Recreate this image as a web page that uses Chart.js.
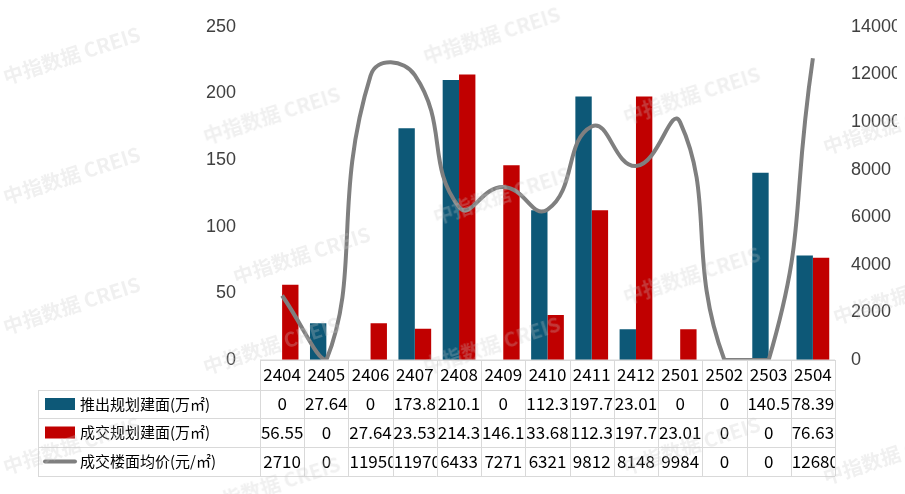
<!DOCTYPE html>
<html><head><meta charset="utf-8">
<script src="https://cdn.jsdelivr.net/npm/chart.js@4"></script>
<style>
body{margin:0;background:#fff;}
#wrap{position:relative;width:905px;height:494px;}
.wm{position:absolute;color:rgba(200,200,200,0.28);font:bold 20px "Noto Sans CJK SC";transform:rotate(-18deg);pointer-events:none;white-space:nowrap;}
</style></head><body>
<div id="wrap"><canvas id="c" width="905" height="494"></canvas></div>
<script>
const categories = ['2404','2405','2406','2407','2408','2409','2410','2411','2412','2501','2502','2503','2504'];
const launched = [0, 27.64, 0, 173.8, 210.1, 0, 112.3, 197.7, 23.01, 0, 0, 140.5, 78.39];
const traded = [56.55, 0, 27.64, 23.53, 214.3, 146.1, 33.68, 112.3, 197.7, 23.01, 0, 0, 76.63];
const price = [2710, 0, 11950, 11970, 6433, 7271, 6321, 9812, 8148, 9984, 0, 0, 12680];
const seriesNames = ['推出规划建面(万㎡)', '成交规划建面(万㎡)', '成交楼面均价(元/㎡)'];
const colors = ['#0d5877', '#c00000', '#7f7f7f'];

// Watermarks
const wrap = document.getElementById('wrap');
[[0,40],[200,100],[420,20],[620,80],[820,110],[0,160],[230,240],[430,180],[620,260],[830,280],[0,290],[200,330],[420,330],[0,430],[200,470],[620,430],[820,440]].forEach(p => {
    const d = document.createElement('div');
    d.className = 'wm';
    d.textContent = '中指数据 CREIS';
    d.style.left = p[0] + 'px';
    d.style.top = p[1] + 'px';
    wrap.appendChild(d);
});

const FONT = '17px "Noto Sans CJK SC", "Noto Sans", sans-serif';

const tablePlugin = {
    id: 'table',
    afterDraw(chart) {
        const ctx = chart.ctx;
        const x = chart.scales.x;
        const top = chart.chartArea.bottom;
        const rowsY = [top, top + 30, top + 58, top + 87, top + 116];
        const n = categories.length;
        const w = (x.right - x.left) / n;
        const tableLeft = 38;
        ctx.save();
        ctx.strokeStyle = '#d9d9d9';
        ctx.lineWidth = 1;
        ctx.beginPath();
        ctx.moveTo(x.left, rowsY[0]); ctx.lineTo(x.right, rowsY[0]);
        for (let i = 1; i < rowsY.length; i++) {
            ctx.moveTo(tableLeft, rowsY[i] + 0.5); ctx.lineTo(x.right, rowsY[i] + 0.5);
        }
        for (let i = 0; i <= n; i++) {
            const xx = Math.round(x.left + i * w) + 0.5;
            ctx.moveTo(xx, rowsY[0]); ctx.lineTo(xx, rowsY[4]);
        }
        ctx.moveTo(tableLeft + 0.5, rowsY[1]); ctx.lineTo(tableLeft + 0.5, rowsY[4]);
        ctx.stroke();

        ctx.font = FONT;
        ctx.fillStyle = '#000';
        ctx.textBaseline = 'middle';
        const rows = [categories, launched, traded, price];
        rows.forEach((vals, r) => {
            const cy = (rowsY[r] + rowsY[r + 1]) / 2;
            vals.forEach((v, i) => {
                const cx0 = x.left + i * w;
                ctx.save();
                ctx.beginPath();
                ctx.rect(cx0 + 1, rowsY[r], w - 1, rowsY[r + 1] - rowsY[r]);
                ctx.clip();
                const s = String(v);
                const tw = ctx.measureText(s).width;
                ctx.textAlign = 'left';
                ctx.fillText(s, tw > w ? cx0 + 1 : cx0 + (w - tw) / 2, cy);
                ctx.restore();
            });
            if (r > 0) {
                const k = r - 1;
                if (k < 2) {
                    ctx.fillStyle = colors[k];
                    ctx.fillRect(45, cy - 6, 30, 12);
                } else {
                    ctx.strokeStyle = colors[2];
                    ctx.lineWidth = 4;
                    ctx.lineCap = 'round';
                    ctx.beginPath(); ctx.moveTo(45, cy); ctx.lineTo(75, cy); ctx.stroke();
                }
                ctx.fillStyle = '#000';
                ctx.textAlign = 'left';
                ctx.font = '15px "Noto Sans CJK SC", sans-serif';
                ctx.fillText(seriesNames[k], 80, cy);
                ctx.font = FONT;
            }
        });
        ctx.restore();
    }
};

new Chart(document.getElementById('c'), {
    data: {
        labels: categories,
        datasets: [
            { type: 'line', label: seriesNames[2], data: price, yAxisID: 'y1', borderColor: colors[2], borderWidth: 4, pointRadius: 0, tension: 0.5, fill: false, order: 0 },
            { type: 'bar', label: seriesNames[0], data: launched, yAxisID: 'y', backgroundColor: colors[0], categoryPercentage: 0.74, barPercentage: 1, order: 1 },
            { type: 'bar', label: seriesNames[1], data: traded, yAxisID: 'y', backgroundColor: colors[1], categoryPercentage: 0.74, barPercentage: 1, order: 1 }
        ]
    },
    options: {
        responsive: false,
        animation: false,
        layout: { padding: { top: 10, bottom: 126, right: 8 } },
        plugins: { legend: { display: false }, tooltip: { enabled: false } },
        scales: {
            x: {
                ticks: { display: false },
                grid: { display: false },
                border: { color: '#d9d9d9' }
            },
            y: {
                position: 'left', min: 0, max: 250,
                ticks: { stepSize: 50, color: '#404040', font: { size: 18 }, padding: 16 },
                grid: { display: false }, border: { display: false },
                afterFit: s => { s.width = 260; }
            },
            y1: {
                position: 'right', min: 0, max: 14000,
                ticks: { stepSize: 2000, color: '#404040', font: { size: 18 }, padding: 8, callback: v => String(v) },
                grid: { display: false }, border: { display: false },
                afterFit: s => { s.width = 62; }
            }
        }
    },
    plugins: [tablePlugin]
});
</script>
</body></html>
